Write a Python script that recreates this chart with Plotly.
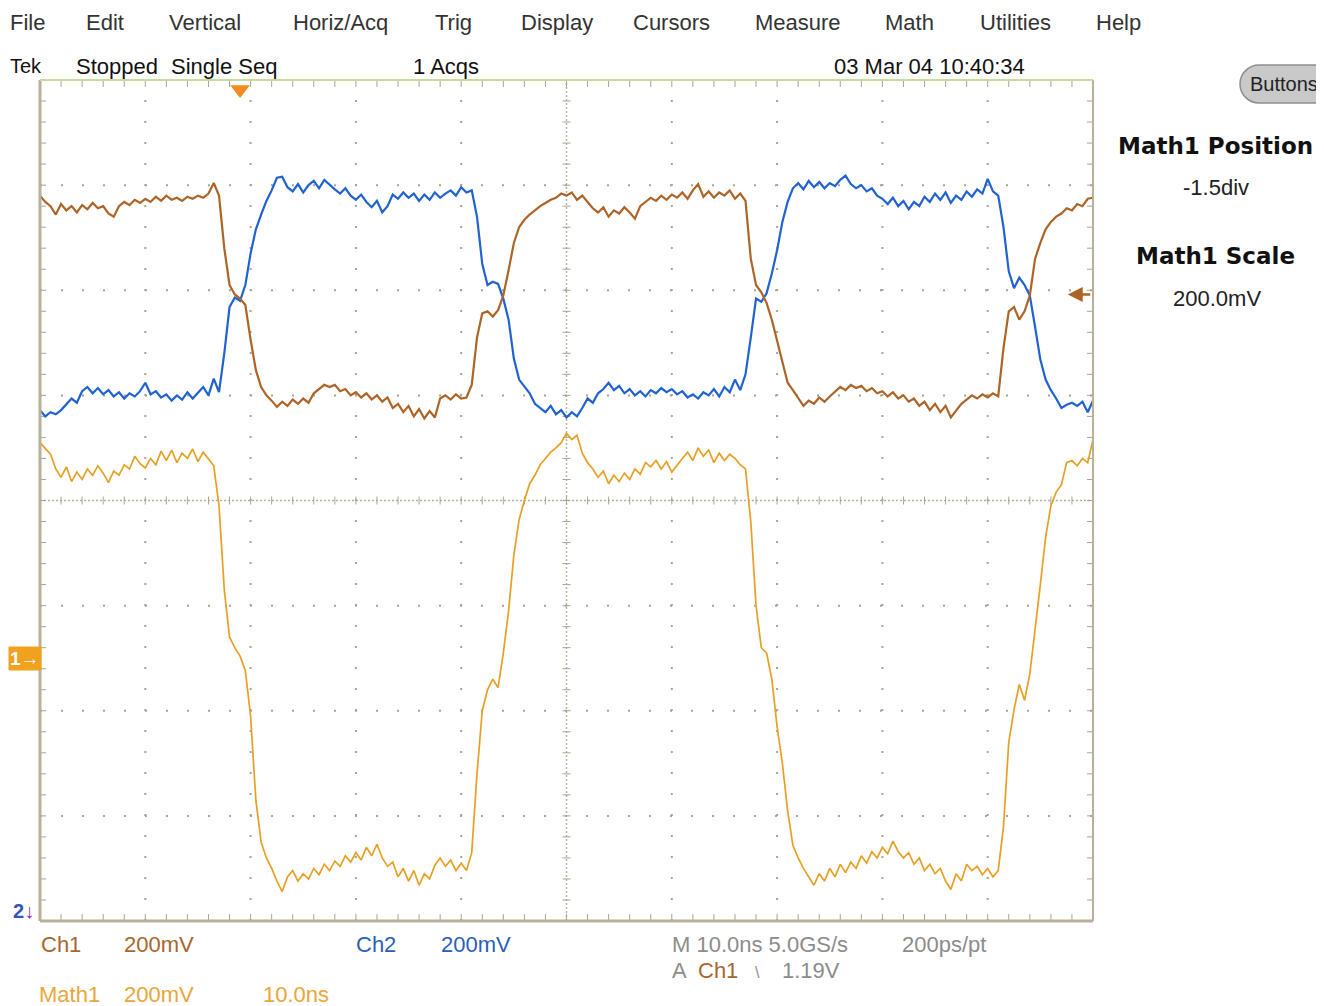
import plotly.graph_objects as go

# ---------------- data (screen divisions, 10 ns/div, record step 0.5 ns) ----------------
t_start_ns = -50.0
t_step_ns = 0.5

ch1_div = [
    2.90, 2.84, 2.80, 2.72, 2.82, 2.76, 2.80, 2.74, 2.81, 2.77,
    2.83, 2.78, 2.80, 2.73, 2.70, 2.80, 2.84, 2.81, 2.86, 2.83,
    2.87, 2.84, 2.89, 2.85, 2.90, 2.86, 2.88, 2.85, 2.89, 2.87,
    2.90, 2.88, 2.92, 3.02, 2.90, 2.40, 2.05, 1.96, 1.92, 1.86,
    1.53, 1.24, 1.08, 1.00, 0.95, 0.89, 0.94, 0.90, 0.96, 0.92,
    0.97, 0.93, 1.02, 1.06, 1.10, 1.08, 1.10, 1.04, 1.06, 1.00,
    1.03, 0.98, 1.02, 0.96, 1.00, 0.94, 0.98, 0.88, 0.92, 0.84,
    0.90, 0.80, 0.87, 0.78, 0.85, 0.79, 0.97, 1.00, 0.96, 1.01,
    0.97, 0.98, 1.10, 1.55, 1.78, 1.80, 1.75, 1.81, 1.95, 2.19,
    2.45, 2.60, 2.67, 2.72, 2.76, 2.80, 2.83, 2.86, 2.88, 2.92,
    2.90, 2.93, 2.86, 2.90, 2.84, 2.78, 2.74, 2.79, 2.70, 2.76,
    2.73, 2.79, 2.74, 2.68, 2.80, 2.84, 2.88, 2.85, 2.90, 2.86,
    2.91, 2.88, 2.93, 2.87, 2.95, 3.01, 2.89, 2.94, 2.88, 2.93,
    2.90, 2.95, 2.87, 2.92, 2.85, 2.30, 2.05, 1.98, 1.88, 1.72,
    1.52, 1.30, 1.12, 1.05, 0.98, 0.90, 0.95, 0.92, 0.98, 0.94,
    0.99, 1.04, 1.08, 1.05, 1.10, 1.07, 1.09, 1.04, 1.07, 1.02,
    1.04, 0.99, 1.03, 0.97, 1.00, 0.94, 0.97, 0.90, 0.94, 0.86,
    0.92, 0.84, 0.90, 0.79, 0.86, 0.92, 0.96, 1.00, 0.97, 1.01,
    0.98, 1.02, 0.99, 1.45, 1.80, 1.84, 1.72, 1.80, 1.95, 2.30,
    2.45, 2.58, 2.65, 2.70, 2.73, 2.78, 2.76, 2.82, 2.80, 2.87,
    2.88,
]

ch2_div = [
    0.86, 0.80, 0.84, 0.82, 0.86, 0.92, 0.97, 0.93, 1.04, 1.08,
    1.02, 1.07, 1.01, 1.05, 0.99, 1.03, 0.97, 1.02, 0.99, 1.04,
    1.12, 1.01, 1.04, 0.98, 1.01, 0.95, 1.00, 0.96, 1.03, 0.97,
    1.02, 1.08, 1.00, 1.16, 1.03, 1.40, 1.84, 1.93, 1.90, 2.05,
    2.35, 2.58, 2.72, 2.85, 2.95, 3.07, 3.08, 2.98, 2.94, 3.01,
    2.93, 3.00, 3.04, 2.97, 3.05, 3.00, 2.96, 2.92, 2.97, 2.90,
    2.86, 2.91, 2.84, 2.79, 2.85, 2.74, 2.80, 2.91, 2.87, 2.93,
    2.88, 2.92, 2.85, 2.91, 2.86, 2.93, 2.88, 2.92, 2.95, 2.90,
    2.98, 2.93, 2.95, 2.70, 2.25, 2.05, 2.08, 2.06, 1.92, 1.72,
    1.35, 1.15, 1.08, 1.02, 0.92, 0.88, 0.84, 0.90, 0.82, 0.86,
    0.79, 0.84, 0.80, 0.88, 0.97, 0.93, 1.02, 1.06, 1.12, 1.05,
    1.09, 1.02, 1.06, 1.00, 1.04, 0.99, 1.05, 1.02, 1.07, 1.03,
    1.06, 1.01, 1.04, 0.98, 1.01, 0.97, 1.03, 1.00, 1.06, 0.99,
    1.08, 1.03, 1.15, 1.05, 1.20, 1.55, 1.92, 1.89, 1.97, 2.16,
    2.38, 2.65, 2.84, 2.97, 3.02, 2.96, 3.04, 2.98, 3.03, 2.97,
    3.02, 2.99, 3.05, 3.09, 3.01, 2.97, 3.00, 2.94, 2.97, 2.90,
    2.87, 2.82, 2.88, 2.80, 2.85, 2.77, 2.84, 2.80, 2.89, 2.84,
    2.92, 2.86, 2.93, 2.83, 2.90, 2.86, 2.94, 2.89, 2.96, 2.92,
    3.06, 2.94, 2.90, 2.60, 2.18, 2.02, 2.12, 2.05, 1.95, 1.65,
    1.34, 1.15, 1.05, 0.97, 0.88, 0.91, 0.93, 0.90, 0.94, 0.84,
    0.95,
]

math1_div = [
    0.55, 0.50, 0.44, 0.30, 0.22, 0.32, 0.18, 0.27, 0.20, 0.30,
    0.24, 0.33, 0.26, 0.17, 0.28, 0.24, 0.34, 0.30, 0.42, 0.35,
    0.31, 0.40, 0.34, 0.47, 0.38, 0.48, 0.36, 0.45, 0.40, 0.49,
    0.37, 0.46, 0.40, 0.33, -0.05, -0.85, -1.30, -1.40, -1.48, -1.62,
    -2.05, -2.85, -3.25, -3.40, -3.50, -3.62, -3.72, -3.58, -3.52, -3.62,
    -3.55, -3.60, -3.50, -3.56, -3.46, -3.52, -3.43, -3.48, -3.38, -3.44,
    -3.35, -3.42, -3.30, -3.38, -3.27, -3.40, -3.48, -3.44, -3.58, -3.50,
    -3.62, -3.52, -3.66, -3.55, -3.60, -3.47, -3.40, -3.48, -3.42, -3.52,
    -3.45, -3.52, -3.35, -2.60, -2.00, -1.80, -1.70, -1.78, -1.45, -1.05,
    -0.52, -0.18, 0.00, 0.16, 0.24, 0.34, 0.40, 0.46, 0.50, 0.55,
    0.64, 0.58, 0.62, 0.45, 0.36, 0.30, 0.22, 0.28, 0.16, 0.24,
    0.18, 0.26, 0.20, 0.30, 0.25, 0.36, 0.32, 0.38, 0.30, 0.37,
    0.27, 0.34, 0.40, 0.46, 0.38, 0.50, 0.42, 0.48, 0.36, 0.45,
    0.38, 0.44, 0.40, 0.34, 0.30, -0.20, -1.00, -1.40, -1.45, -1.70,
    -2.15, -2.50, -2.95, -3.28, -3.40, -3.50, -3.58, -3.66, -3.55, -3.62,
    -3.50, -3.58, -3.46, -3.54, -3.44, -3.50, -3.38, -3.45, -3.34, -3.40,
    -3.30, -3.36, -3.24, -3.34, -3.40, -3.35, -3.46, -3.40, -3.52, -3.46,
    -3.55, -3.50, -3.62, -3.70, -3.55, -3.62, -3.46, -3.52, -3.48, -3.56,
    -3.50, -3.58, -3.52, -3.10, -2.30, -1.99, -1.75, -1.90, -1.65, -1.25,
    -0.80, -0.35, -0.05, 0.08, 0.15, 0.36, 0.38, 0.33, 0.40, 0.36,
    0.58,
]

trigger_time_ns = -31.0
trigger_level_div = 1.96
math1_position_div = -1.5

menu_items = ["File", "Edit", "Vertical", "Horiz/Acq", "Trig", "Display",
              "Cursors", "Measure", "Math", "Utilities", "Help"]

# ---------------- styling ----------------
W, H = 1324, 1006
L, R, T, B = 40, 1093, 80, 921      # plot frame in page pixels
PAGE_OFF = 8                         # default body margin of the html page
FONT = "Liberation Sans, Arial, sans-serif"
C_CH1 = "#AD6426"
C_CH2 = "#1F62D0"
C_MATH = "#E6A024"
C_GRID = "#a9a58f"
C_FRAME = "#b8b09a"
C_GRAY = "#8c8c8c"


def pxx(px):
    return (px - L) / (R - L)


def pxy(py):
    return (B - py) / (B - T)


fig = go.Figure()

fig.add_trace(go.Scatter(x0=t_start_ns, dx=t_step_ns, y=math1_div, mode="lines",
                         line=dict(color=C_MATH, width=1.7), hoverinfo="skip", name="Math1"))
fig.add_trace(go.Scatter(x0=t_start_ns, dx=t_step_ns, y=ch2_div, mode="lines",
                         line=dict(color=C_CH2, width=2.2), hoverinfo="skip", name="Ch2"))
fig.add_trace(go.Scatter(x0=t_start_ns, dx=t_step_ns, y=ch1_div, mode="lines",
                         line=dict(color=C_CH1, width=2.2), hoverinfo="skip", name="Ch1"))

# trigger position marker
fig.add_trace(go.Scatter(x=[trigger_time_ns], y=[3.91], mode="markers", cliponaxis=False,
                         marker=dict(symbol="triangle-down", size=17, color="#F58A1F", line=dict(width=0)),
                         hoverinfo="skip"))

shapes = []
# dotted major graticule
for k in range(-4, 5):
    if k == 0:
        continue
    shapes.append(dict(type="line", xref="x", yref="y", x0=k * 10, x1=k * 10, y0=-4, y1=4,
                       line=dict(color=C_GRID, width=2, dash="2px,19px"), layer="below"))
for k in range(-3, 4):
    if k == 0:
        continue
    shapes.append(dict(type="line", xref="x", yref="y", x0=-50, x1=50, y0=k, y1=k,
                       line=dict(color=C_GRID, width=2, dash="2px,19px"), layer="below"))
# centre cross
shapes.append(dict(type="line", xref="x", yref="y", x0=0, x1=0, y0=-4, y1=4,
                   line=dict(color="#b7b2a0", width=1.5, dash="2px,2px"), layer="below"))
shapes.append(dict(type="line", xref="x", yref="y", x0=-50, x1=50, y0=0, y1=0,
                   line=dict(color="#b7b2a0", width=1.5, dash="2px,2px"), layer="below"))

# minor ticks (every 1/5 division)
for i in range(-25, 26):
    xv = i * 2
    shapes.append(dict(type="line", xref="x", yref="y", ysizemode="pixel", yanchor=0,
                       x0=xv, x1=xv, y0=-4, y1=4, line=dict(color=C_GRID, width=1), layer="below"))
    shapes.append(dict(type="line", xref="x", yref="y", ysizemode="pixel", yanchor=-4,
                       x0=xv, x1=xv, y0=0, y1=7, line=dict(color=C_GRID, width=1), layer="below"))
    shapes.append(dict(type="line", xref="x", yref="y", ysizemode="pixel", yanchor=4,
                       x0=xv, x1=xv, y0=-7, y1=0, line=dict(color=C_GRID, width=1), layer="below"))
for i in range(-20, 21):
    yv = i * 0.2
    shapes.append(dict(type="line", xref="x", yref="y", xsizemode="pixel", xanchor=0,
                       x0=-4, x1=4, y0=yv, y1=yv, line=dict(color=C_GRID, width=1), layer="below"))
    shapes.append(dict(type="line", xref="x", yref="y", xsizemode="pixel", xanchor=-50,
                       x0=0, x1=6, y0=yv, y1=yv, line=dict(color=C_GRID, width=1), layer="below"))
    shapes.append(dict(type="line", xref="x", yref="y", xsizemode="pixel", xanchor=50,
                       x0=-6, x1=0, y0=yv, y1=yv, line=dict(color=C_GRID, width=1), layer="below"))

# frame
shapes.append(dict(type="line", xref="paper", yref="paper", x0=0, x1=0, y0=0, y1=1,
                   line=dict(color=C_FRAME, width=3)))
shapes.append(dict(type="line", xref="paper", yref="paper", x0=0, x1=1, y0=0, y1=0,
                   line=dict(color=C_FRAME, width=3)))
shapes.append(dict(type="line", xref="paper", yref="paper", x0=1, x1=1, y0=0, y1=1,
                   line=dict(color=C_FRAME, width=2)))
shapes.append(dict(type="line", xref="paper", yref="paper", x0=0, x1=1, y0=1, y1=1,
                   line=dict(color="#c6dc9e", width=2)))


def P(px, py):
    return f"{pxx(px):.5f},{pxy(py):.5f}"


pill = (f"M{P(1259, 65)} L{P(1340, 65)} L{P(1340, 103)} L{P(1259, 103)} "
        f"C{P(1249, 103)} {P(1240, 95)} {P(1240, 84)} C{P(1240, 73)} {P(1249, 65)} {P(1259, 65)} Z")
shapes.append(dict(type="path", xref="paper", yref="paper", path=pill,
                   fillcolor="#c9c9c9", line=dict(color="#8e8e8e", width=1.5)))

fig.update_layout(shapes=shapes)


def txt(s, px, py, size=22, color="#222222", anchor="left", family=FONT, bold=False):
    fig.add_annotation(text=s, xref="paper", yref="paper", x=pxx(px), y=pxy(py),
                       xanchor=anchor, yanchor="middle", showarrow=False,
                       font=dict(size=size, color=color, family=family,
                                 weight="bold" if bold else "normal"))


menu_x = [8, 84, 167, 291, 433, 519, 631, 753, 883, 978, 1094]
for s, x in zip(menu_items, menu_x):
    txt(s, x, 22, color="#333333")

txt("Tek", 8, 66, size=20, color="#111111")
txt("Stopped", 74, 66, color="#111111")
txt("Single Seq", 169, 66, color="#111111")
txt("1 Acqs", 411, 66, color="#111111")
txt("03 Mar 04 10:40:34", 832, 66, color="#111111")

txt("Buttons", 1248, 84, size=20, color="#222222")
txt("Math1 Position", 1215, 146, size=23, color="#111111", anchor="center",
    family="DejaVu Sans, Verdana, sans-serif", bold=True)
txt("-1.5div", 1216, 188, color="#222222", anchor="center")
txt("Math1 Scale", 1215, 256, size=23, color="#111111", anchor="center",
    family="DejaVu Sans, Verdana, sans-serif", bold=True)
txt("200.0mV", 1217, 298, color="#222222", anchor="center")

# bottom readouts
txt("Ch1", 39, 944, color="#A8662C")
txt("200mV", 122, 944, color="#A8662C")
txt("Ch2", 354, 944, color="#2A5FB8")
txt("200mV", 439, 944, color="#2A5FB8")
txt("M 10.0ns 5.0GS/s", 670, 944, color=C_GRAY)
txt("200ps/pt", 900, 944, color=C_GRAY)
txt("A", 670, 970, color=C_GRAY)
txt("Ch1", 696, 970, color="#A8662C")
txt("\\", 753, 972, size=16, color=C_GRAY)
txt("1.19V", 780, 970, color=C_GRAY)
txt("Math1", 37, 995, color="#EBA63A")
txt("200mV", 122, 995, color="#EBA63A")
txt("10.0ns", 261, 995, color="#EBA63A")

# channel reference markers
fig.add_annotation(text="<b>1</b>\u2192", xref="paper", yref="y", x=pxx(25), y=math1_position_div,
                   xanchor="center", yanchor="middle", showarrow=False, bgcolor="#F0A21E",
                   borderpad=1, font=dict(size=19, color="white", family=FONT))
fig.add_annotation(text="<span style='color:#3355bb'><b>2</b></span><span style='color:#8a2fa8'>\u2193</span>",
                   xref="paper", yref="paper", x=pxx(23), y=pxy(911), xanchor="center",
                   yanchor="middle", showarrow=False, font=dict(size=20, family=FONT))
# trigger level arrow (Ch1)
fig.add_annotation(x=47.6, y=trigger_level_div, xref="x", yref="y", ax=24, ay=0,
                   showarrow=True, arrowhead=2, arrowsize=1.2, arrowwidth=2.5, arrowcolor=C_CH1, text="")

fig.update_layout(
    width=W - PAGE_OFF, height=H - PAGE_OFF, autosize=False,
    margin=dict(l=L - PAGE_OFF, r=W - R, t=T - PAGE_OFF, b=H - B, pad=0),
    paper_bgcolor="white", plot_bgcolor="white", showlegend=False,
    xaxis=dict(range=[-50, 50], showgrid=False, zeroline=False, showticklabels=False,
               ticks="", showline=False, fixedrange=True),
    yaxis=dict(range=[-4, 4], showgrid=False, zeroline=False, showticklabels=False,
               ticks="", showline=False, fixedrange=True),
)

fig.write_html("out.html", config={"displayModeBar": False})
